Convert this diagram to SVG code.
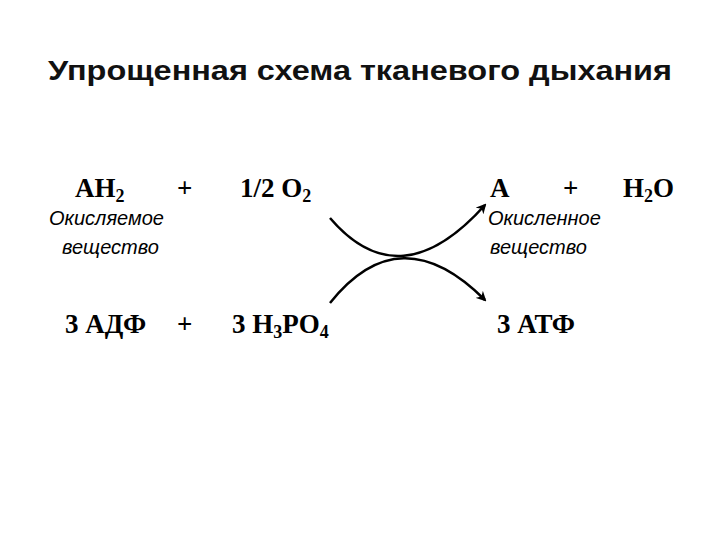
<svg xmlns="http://www.w3.org/2000/svg" width="720" height="540" viewBox="0 0 720 540">
<style>
.t{font-family:"Liberation Sans",Arial,sans-serif;font-weight:bold;font-size:27px;fill:#111}
.f{font-family:"Liberation Serif","Times New Roman",serif;font-weight:bold;font-size:27px;fill:#000}
.i{font-family:"Liberation Sans",Arial,sans-serif;font-style:italic;font-size:20px;fill:#000}
.c{fill:none;stroke:#000;stroke-width:2.5}
</style>
<defs><marker id="a" markerWidth="10" markerHeight="10" refX="8" refY="5" orient="auto" markerUnits="userSpaceOnUse"><path d="M0,0 L10,5 L0,10 L3,5 Z" fill="#000"/></marker></defs>
<rect width="720" height="540" fill="#fff"/>
<text class="t" x="48" y="80" textLength="624" lengthAdjust="spacingAndGlyphs">Упрощенная схема тканевого дыхания</text>
<g id="n1"><text class="f" x="75" y="197">AH<tspan font-size="18" dy="5">2</tspan></text></g>
<g id="p1"><text class="f" x="177" y="197">+</text></g>
<g id="n2"><text class="f" x="240" y="197">1/2  O<tspan font-size="18" dy="5">2</tspan></text></g>
<g id="n3"><text class="f" x="490" y="197">A</text></g>
<g id="p2"><text class="f" x="563" y="197">+</text></g>
<g id="n4"><text class="f" x="623" y="197">H<tspan font-size="18" dy="5">2</tspan><tspan dy="-5">O</tspan></text></g>
<g id="l1"><text class="i" x="49" y="225">Окисляемое</text><text class="i" x="62" y="254">вещество</text></g>
<g id="l2"><text class="i" x="488" y="225">Окисленное</text><text class="i" x="490" y="254">вещество</text></g>
<g id="n5"><text class="f" x="65" y="333">3 АДФ</text></g>
<g id="p3"><text class="f" x="177" y="333">+</text></g>
<g id="n6"><text class="f" x="232" y="333">3 H<tspan font-size="18" dy="5">3</tspan><tspan dy="-5">PO</tspan><tspan font-size="18" dy="5">4</tspan></text></g>
<g id="n7"><text class="f" x="497" y="333">3 АТФ</text></g>
<g id="connectors">
<path class="c" d="M330,218 Q400,300 485,205" marker-end="url(#a)"/>
<path class="c" d="M330,303 Q400,215 485,300" marker-end="url(#a)"/>
</g>
</svg>
